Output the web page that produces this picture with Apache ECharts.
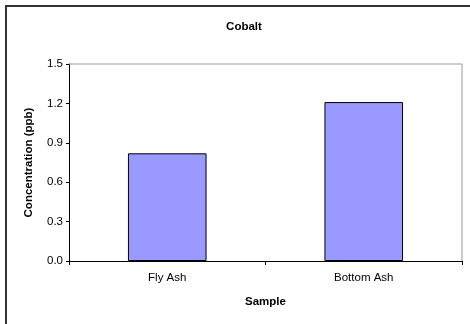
<!DOCTYPE html>
<html>
<head>
<meta charset="utf-8">
<script src="https://cdn.jsdelivr.net/npm/echarts@6/dist/echarts.min.js"></script>
<style>
  html, body { margin: 0; padding: 0; background: #fff; }
  #chart { width: 470px; height: 324px; }
</style>
</head>
<body>
<div id="chart"></div>
<script>
// Cobalt concentration by ash sample
const categories = ['Fly Ash', 'Bottom Ash'];
const concentration = [0.82, 1.21];
const yTicks = { min: 0, max: 1.5, interval: 0.3 };

const chart = echarts.init(document.getElementById('chart'), null, { renderer: 'canvas' });
const font = 'Liberation Sans, Arial, sans-serif';

chart.setOption({
  animation: false,
  backgroundColor: '#fff',
  graphic: [
    {
      type: 'rect',
      shape: { x: 6, y: 6, width: 480, height: 340 },
      style: { fill: 'none', stroke: '#333', lineWidth: 2 },
      z: 0
    },
    {
      // top and right edges of the plot frame
      type: 'polyline',
      shape: { points: [[69, 64], [462, 64], [462, 261]] },
      style: { stroke: '#999', lineWidth: 1, fill: 'none' },
      z: 1
    }
  ],
  title: {
    text: 'Cobalt',
    left: 239,
    textAlign: 'center',
    top: 16,
    textStyle: { fontFamily: font, fontSize: 11.5, fontWeight: 'bold', color: '#000' }
  },
  grid: { left: 69, right: 8, top: 64, bottom: 63, containLabel: false },
  xAxis: {
    type: 'category',
    data: categories,
    name: 'Sample',
    nameLocation: 'middle',
    nameGap: 35,
    nameTextStyle: { fontFamily: font, fontSize: 11.5, fontWeight: 'bold', color: '#000' },
    axisLine: { lineStyle: { color: '#000', width: 1 } },
    axisTick: { show: true, length: 4, inside: false, lineStyle: { color: '#000' } },
    axisLabel: { fontFamily: font, fontSize: 11.5, color: '#000', margin: 11 },
    splitLine: { show: false }
  },
  yAxis: {
    type: 'value',
    min: yTicks.min,
    max: yTicks.max,
    interval: yTicks.interval,
    name: 'Concentration (ppb)',
    nameLocation: 'middle',
    nameRotate: 90,
    nameGap: 34,
    nameTextStyle: { fontFamily: font, fontSize: 11.5, fontWeight: 'bold', color: '#000' },
    axisLine: { show: true, lineStyle: { color: '#000', width: 1 } },
    axisTick: { show: true, length: 3, lineStyle: { color: '#000' } },
    axisLabel: {
      fontFamily: font, fontSize: 11.5, color: '#000', margin: 6,
      formatter: v => v.toFixed(1)
    },
    splitLine: { show: false }
  },
  series: [{
    type: 'bar',
    data: concentration,
    barWidth: '40%',
    itemStyle: { color: '#9999ff', borderColor: '#000', borderWidth: 1 }
  }]
});
</script>
</body>
</html>
